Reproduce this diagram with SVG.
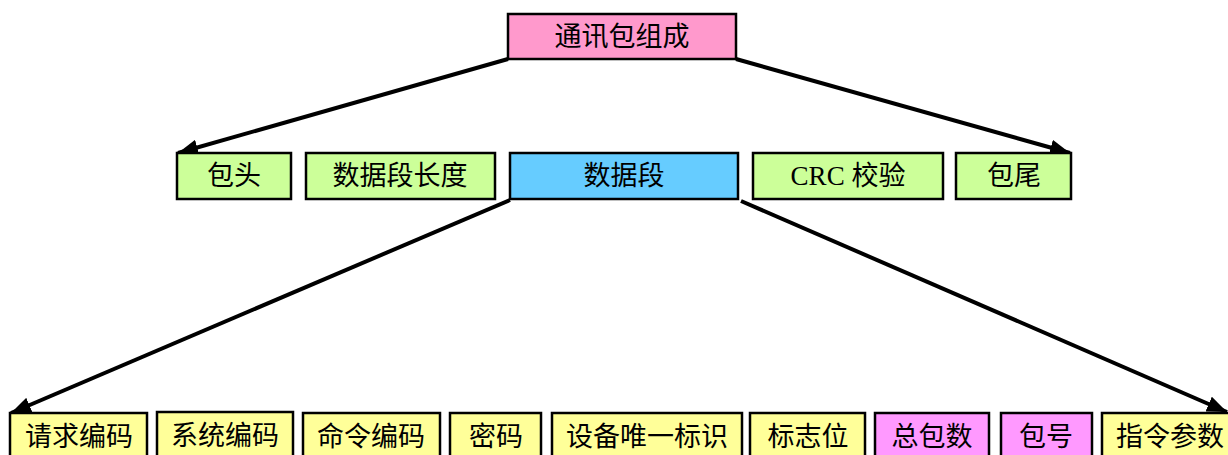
<svg xmlns="http://www.w3.org/2000/svg" width="1228" height="455" viewBox="0 0 1228 455">
<style>
rect{stroke:#000;stroke-width:2.5}
text{font-family:"Liberation Serif","Noto Sans CJK SC",serif;font-size:27px;fill:#000;text-anchor:middle;dominant-baseline:central}
.g{fill:#CCFF99}.y{fill:#FFFF99}.m{fill:#FF99FF}.p{fill:#FF99CC}.b{fill:#66CCFF}
.c line{stroke:#000;stroke-width:4;marker-end:url(#ah)}
</style>
<defs>
<marker id="ah" markerUnits="userSpaceOnUse" markerWidth="22" markerHeight="16" refX="20" refY="8" orient="auto">
<path d="M0,0 L20,8 L0,16 Z" fill="#000"/>
</marker>
</defs>
<rect width="1228" height="455" fill="#fff" style="stroke:none"/>
<g class="c" id="connectors">
<line x1="508" y1="59" x2="178" y2="153"/>
<line x1="736" y1="59" x2="1070" y2="153"/>
<line x1="510" y1="200" x2="11" y2="413"/>
<line x1="741" y1="201" x2="1227" y2="412"/>
</g>
<g id="n-root"><rect class="p" x="508" y="14" width="228" height="45"/><text x="622" y="37">通讯包组成</text></g>
<g id="n-head"><rect class="g" x="177" y="153" width="114" height="46"/><text x="234" y="176">包头</text></g>
<g id="n-len"><rect class="g" x="306" y="153" width="189" height="46"/><text x="400" y="176">数据段长度</text></g>
<g id="n-data"><rect class="b" x="510" y="153" width="228" height="46"/><text x="624" y="176">数据段</text></g>
<g id="n-crc"><rect class="g" x="753" y="153" width="190" height="46"/><text x="848" y="176">CRC 校验</text></g>
<g id="n-tail"><rect class="g" x="956" y="153" width="115" height="46"/><text x="1014" y="176">包尾</text></g>
<g id="n-req"><rect class="y" x="10" y="413" width="137" height="48"/><text x="79" y="437">请求编码</text></g>
<g id="n-sys"><rect class="y" x="157" y="412" width="136" height="48"/><text x="225" y="436">系统编码</text></g>
<g id="n-cmd"><rect class="y" x="303" y="413" width="137" height="48"/><text x="371" y="437">命令编码</text></g>
<g id="n-pwd"><rect class="y" x="450" y="413" width="91" height="48"/><text x="496" y="437">密码</text></g>
<g id="n-uid"><rect class="y" x="552" y="413" width="190" height="48"/><text x="647" y="437">设备唯一标识</text></g>
<g id="n-flag"><rect class="y" x="750" y="413" width="115" height="48"/><text x="808" y="437">标志位</text></g>
<g id="n-total"><rect class="m" x="875" y="413" width="114" height="48"/><text x="932" y="437">总包数</text></g>
<g id="n-no"><rect class="m" x="1001" y="413" width="91" height="48"/><text x="1046" y="437">包号</text></g>
<g id="n-param"><rect class="y" x="1102" y="413" width="138" height="48"/><text x="1170" y="437">指令参数</text></g>
</svg>
